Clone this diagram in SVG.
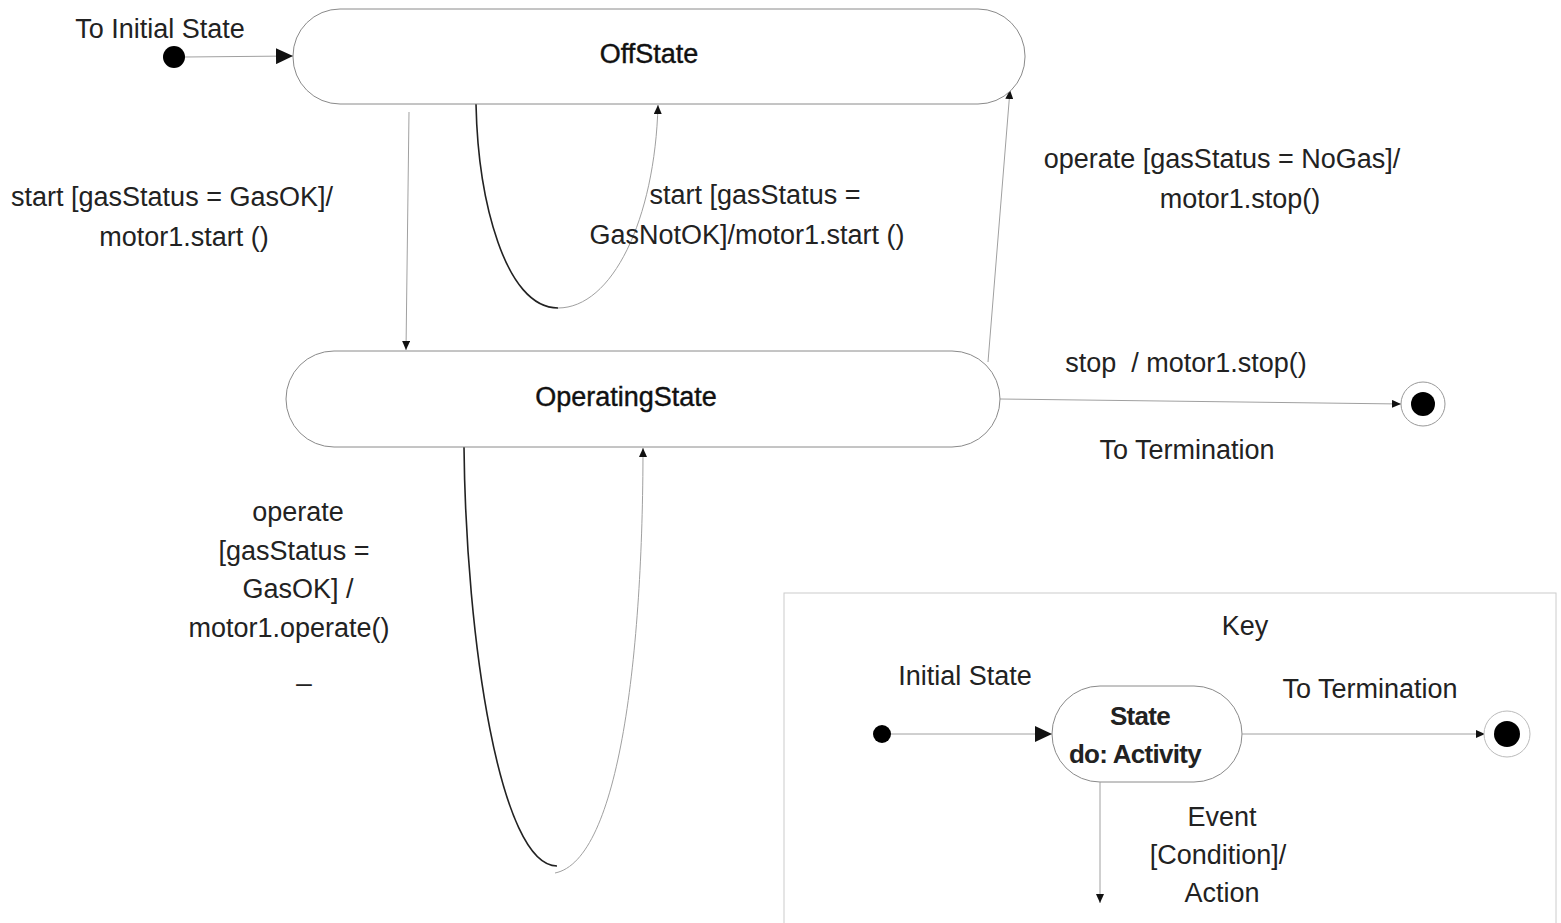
<svg xmlns="http://www.w3.org/2000/svg" width="1561" height="923" viewBox="0 0 1561 923">
<style>
text{font-family:"Liberation Sans",Arial,sans-serif;font-size:27px;fill:#222;text-anchor:middle}
.b{font-weight:bold;font-size:26px;letter-spacing:-0.7px}
.n{fill:#111;stroke:#111;stroke-width:0.4}
.st{fill:#fff;stroke:#8a8a8a;stroke-width:1}
.c{fill:none;stroke:#a0a0a0;stroke-width:1}
.d{fill:none;stroke:#222;stroke-width:1.6}
</style>
<defs>
<marker id="s" markerWidth="9" markerHeight="8" refX="9" refY="4" orient="auto" markerUnits="userSpaceOnUse"><path d="M0,0 L9,4 L0,8 Z" fill="#111"/></marker>
<marker id="L" markerWidth="17" markerHeight="16" refX="17" refY="8" orient="auto" markerUnits="userSpaceOnUse"><path d="M0,0 L17,8 L0,16 Z" fill="#111"/></marker>
</defs>
<g id="connectors">
<line class="c" x1="185" y1="57" x2="293" y2="56" marker-end="url(#L)"/>
<line class="c" x1="409" y1="112" x2="406" y2="350" marker-end="url(#s)"/>
<path class="d" d="M476,104 C478,200 505,308 558,308"/>
<path class="c" d="M558,308 C612,308 655,220 658,105" marker-end="url(#s)"/>
<line class="c" x1="988" y1="362" x2="1010" y2="90" marker-end="url(#s)"/>
<line class="c" x1="1000" y1="399" x2="1401" y2="404" marker-end="url(#s)"/>
<path class="d" d="M464,447 C466,640 500,866 557,866"/>
<path class="c" d="M555,873 C620,860 643,650 643,448" marker-end="url(#s)"/>
</g>
<g id="initial"><circle cx="174" cy="57" r="11" fill="#000"/></g>
<g id="OffState"><rect class="st" x="293" y="9" width="732" height="95" rx="47"/><text class="n" x="649" y="63">OffState</text></g>
<g id="OperatingState"><rect class="st" x="286" y="351" width="714" height="96" rx="48"/><text class="n" x="626" y="406">OperatingState</text></g>
<g id="final"><circle cx="1423" cy="404" r="22" fill="#fff" stroke="#999"/><circle cx="1423" cy="404" r="12" fill="#000"/></g>
<g id="labels">
<text x="160" y="38">To Initial State</text>
<text x="172" y="206">start [gasStatus = GasOK]/</text>
<text x="184" y="246">motor1.start ()</text>
<text x="755" y="204">start [gasStatus =</text>
<text x="747" y="244">GasNotOK]/motor1.start ()</text>
<text x="1222" y="168">operate [gasStatus = NoGas]/</text>
<text x="1240" y="208">motor1.stop()</text>
<text x="1186" y="372" xml:space="preserve">stop  / motor1.stop()</text>
<text x="1187" y="459">To Termination</text>
<text x="298" y="521">operate</text>
<text x="294" y="560">[gasStatus =</text>
<text x="298" y="598">GasOK] /</text>
<text x="289" y="637">motor1.operate()</text>
<text x="304" y="680">_</text>
</g>
<g id="key">
<rect x="784" y="593" width="772" height="340" fill="none" stroke="#ccc"/>
<text x="1245" y="635">Key</text>
<text x="965" y="685">Initial State</text>
<text x="1370" y="698">To Termination</text>
<circle cx="882" cy="734" r="9" fill="#000"/>
<line class="c" x1="891" y1="734" x2="1052" y2="734" marker-end="url(#L)"/>
<rect class="st" x="1052" y="686" width="190" height="96" rx="48"/>
<text class="b" x="1140" y="725">State</text>
<text class="b" x="1135" y="763">do: Activity</text>
<line class="c" x1="1242" y1="734" x2="1485" y2="734" marker-end="url(#s)"/>
<circle cx="1507" cy="734" r="23" fill="#fff" stroke="#bbb"/>
<circle cx="1507" cy="734" r="13" fill="#000"/>
<line class="c" x1="1100" y1="782" x2="1100" y2="903" marker-end="url(#s)"/>
<text x="1222" y="826">Event</text>
<text x="1218" y="864">[Condition]/</text>
<text x="1222" y="902">Action</text>
</g>
</svg>
